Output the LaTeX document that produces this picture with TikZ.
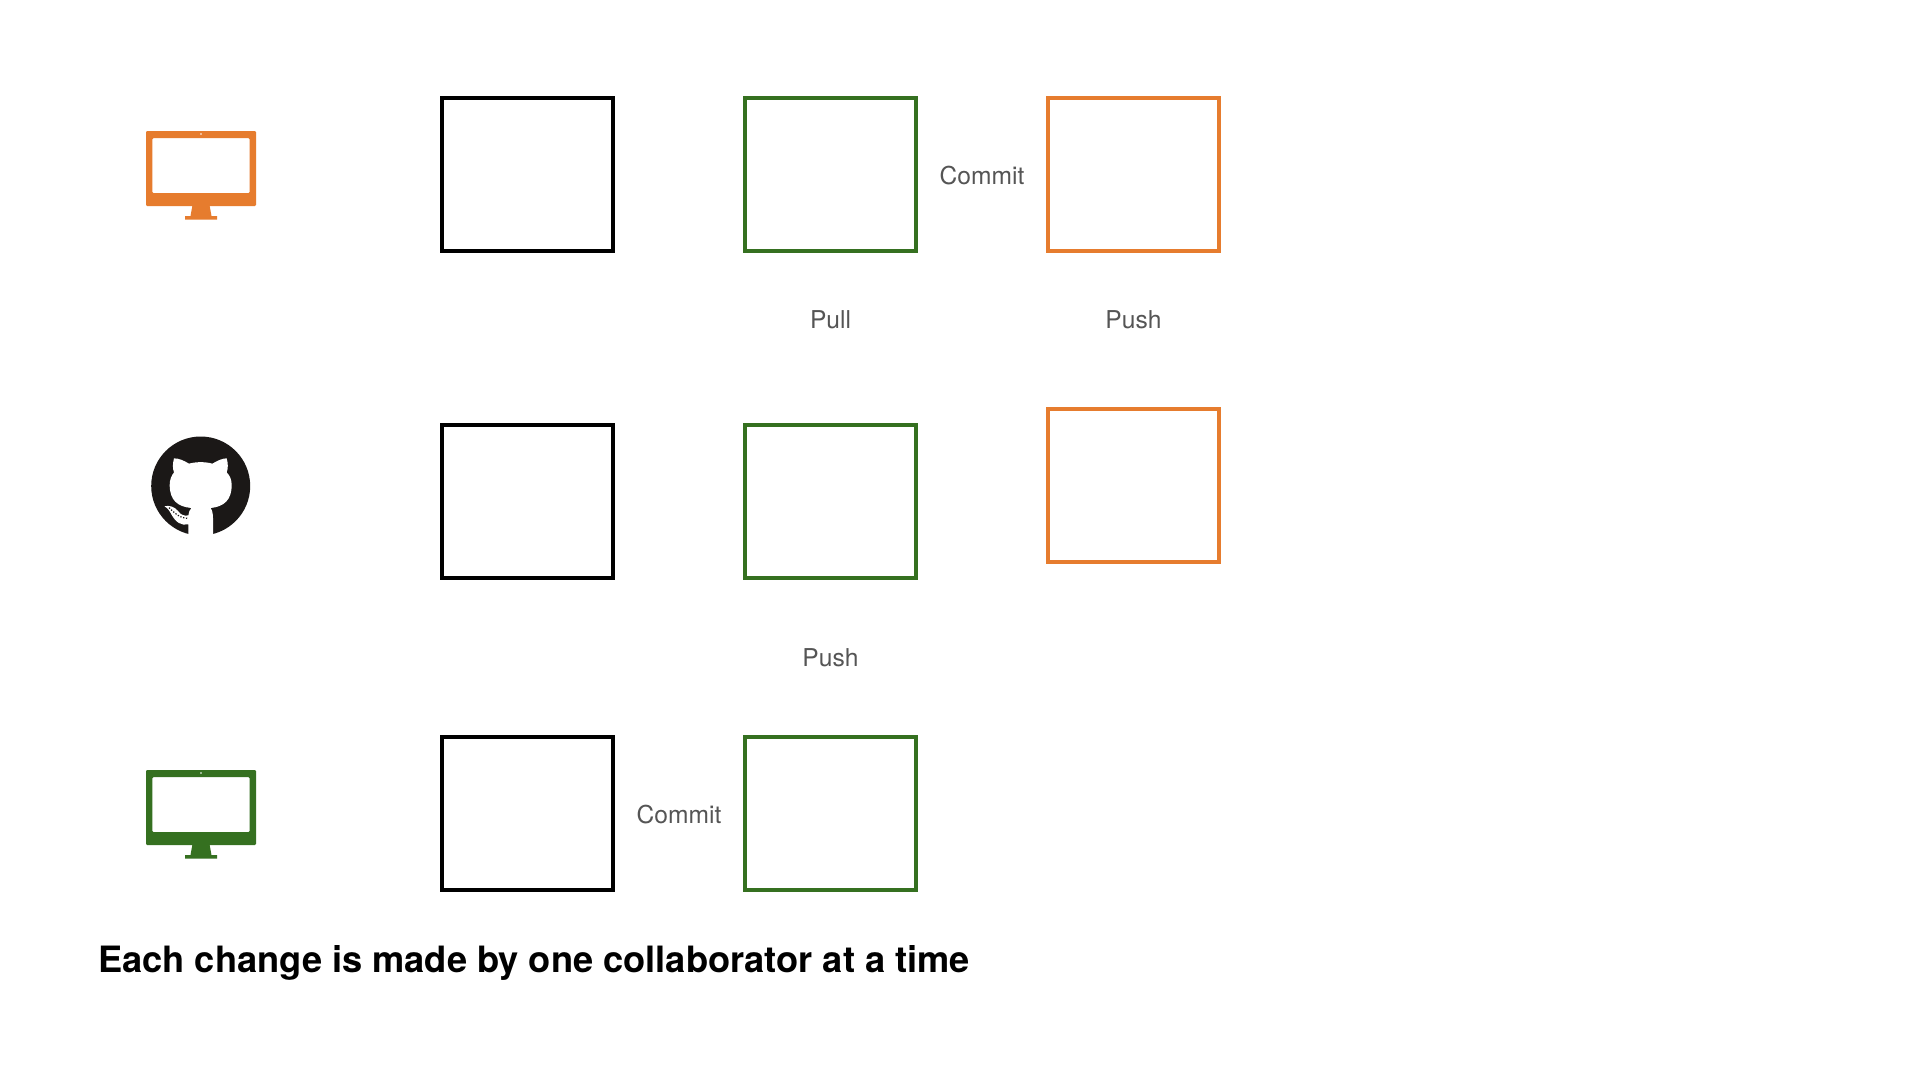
\documentclass[tikz,border=0pt]{standalone}
\usepackage{fontspec}
\setmainfont{TeX Gyre Heros}
\definecolor{orangeC}{HTML}{E67C2E}
\definecolor{greenC}{HTML}{357020}
\definecolor{labelC}{HTML}{555555}
\definecolor{octo}{HTML}{1B1817}
\tikzset{
  card/.style={draw=#1,line width=4.6pt,fill=white,minimum width=171pt,minimum height=153pt,inner sep=0pt,outer sep=0pt},
  lab/.style={text=labelC,font=\fontsize{24.6}{28}\selectfont,inner sep=0pt},
  title/.style={text=black,font=\bfseries\fontsize{36.25}{42}\selectfont,inner sep=0pt,anchor=base west},
  pics/monitor/.style={code={
    \fill[#1,rounded corners=1.2pt,even odd rule] (146,131) rectangle (256,206) (152.3,138) rectangle (249.7,193);
    \fill[#1] (192.5,205) -- (209.5,205) -- (211.5,216) -- (217,216) -- (217,219.5) -- (185,219.5) -- (185,216) -- (190.5,216) -- cycle;
    \fill[white] (201,134) circle (0.9);
  }},
}
\begin{document}
\begin{tikzpicture}[x=1pt,y=-1pt]
\useasboundingbox (0,0) rectangle (1920,1080);
\fill[white] (0,0) rectangle (1920,1080);
% monitors
\pic {monitor=orangeC};
\begin{scope}[yshift=-639pt]
\pic {monitor=greenC};
\end{scope}
% github mark
\fill[octo] (200.7,486) circle (49.5);
\begin{scope}[shift={(140.7,425)},x=0.3333pt,y=-0.3333pt]
\fill[white] (143,332) -- (143,298) .. controls (122,303) and (105,292) .. (92,268)
  .. controls (87,258) and (80,248) .. (71,244)
  .. controls (85,240) and (102,245) .. (112,258)
  .. controls (120,270) and (132,274) .. (143,271)
  .. controls (144,262) and (147,254) .. (152,249)
  .. controls (110,245) and (87,225) .. (87,180)
  .. controls (87,165) and (92,152) .. (100,142)
  .. controls (95,130) and (96,115) .. (100,100)
  .. controls (115,100) and (130,107) .. (145,116)
  .. controls (165,110) and (195,110) .. (215,116)
  .. controls (230,107) and (245,100) .. (258,100)
  .. controls (262,115) and (263,130) .. (258,142)
  .. controls (268,152) and (273,165) .. (273,180)
  .. controls (273,225) and (250,245) .. (210,249)
  .. controls (214,255) and (217,265) .. (217,280) -- (217,332)
  .. controls (195,336) and (165,336) .. (143,332) -- cycle;
\draw[octo,line width=1.2pt,dash pattern=on 1.3pt off 1.6pt] (85,248) .. controls (100,262) and (115,280) .. (143,280);
\end{scope}
% cards
\node[card=black]   (b1) at (527.5,174.5) {};
\node[card=greenC]  (g1) at (830.5,174.5) {};
\node[card=orangeC] (o1) at (1133.5,174.5) {};
\node[card=black]   (b2) at (527.5,501.5) {};
\node[card=greenC]  (g2) at (830.5,501.5) {};
\node[card=orangeC] (o2) at (1133.5,485.5) {};
\node[card=black]   (b3) at (527.5,813.5) {};
\node[card=greenC]  (g3) at (830.5,813.5) {};
% labels
\node[lab] (l1) at (982,176) {Commit};
\node[lab] (l2) at (830.5,320) {Pull};
\node[lab] (l3) at (1133.5,320) {Push};
\node[lab] (l4) at (830.5,658) {Push};
\node[lab] (l5) at (679,815) {Commit};
\node[title] (t) at (98,972) {Each change is made by one collaborator at a time};
\end{tikzpicture}
\end{document}
